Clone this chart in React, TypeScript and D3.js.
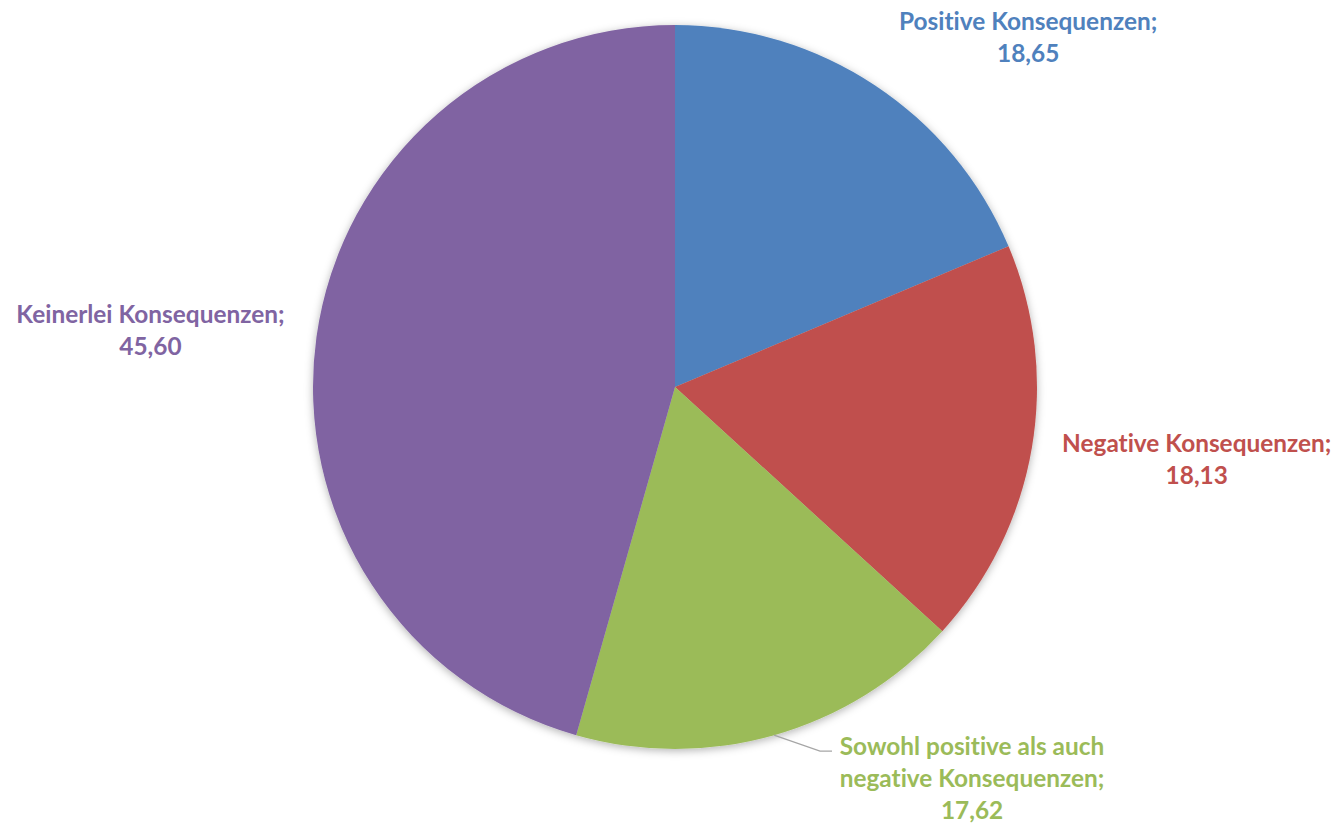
import React, { useEffect, useRef } from "react";
import * as d3 from "d3";

// categories and values (percent)
const categories = [
  "Positive Konsequenzen;",
  "Negative Konsequenzen;",
  "Sowohl positive als auch negative Konsequenzen;",
  "Keinerlei Konsequenzen;",
];
const values = [18.65, 18.13, 17.62, 45.6];
const valueLabels = ["18,65", "18,13", "17,62", "45,60"];
const labelLines = [
  ["Positive Konsequenzen;"],
  ["Negative Konsequenzen;"],
  ["Sowohl positive als auch", "negative Konsequenzen;"],
  ["Keinerlei Konsequenzen;"],
];
const colors = ["#4F81BD", "#C0504D", "#9BBB59", "#8064A2"];

// label placement relative to the slice's outer edge point at mid angle
const labelOffsets = [
  [153, -55],
  [165, 4],
  [198, 20],
  [-166, -14],
];

const App = () => {
  const ref: any = useRef();
  const width = 1339;
  const height = 828;
  const cx = 675;
  const cy = 387;
  const radius = 362;

  useEffect(() => {
    const svg = d3
      .select(ref.current)
      .attr("width", width)
      .attr("height", height);
    svg.selectAll("*").remove();

    const defs = svg.append("defs");
    const filter = defs
      .append("filter")
      .attr("id", "shadow")
      .attr("x", "-10%")
      .attr("y", "-10%")
      .attr("width", "120%")
      .attr("height", "120%");
    filter
      .append("feDropShadow")
      .attr("dx", 0)
      .attr("dy", 2)
      .attr("stdDeviation", 4)
      .attr("flood-color", "#000")
      .attr("flood-opacity", 0.3);

    const data = categories.map((c, i) => ({ name: c, value: values[i], i }));

    const pie = d3
      .pie<any>()
      .sort(null)
      .value((d: any) => d.value);
    const arcs = pie(data);

    const arc = d3.arc<any>().innerRadius(0).outerRadius(radius);

    const ctr = svg.append("g").attr("transform", `translate(${cx},${cy})`);

    ctr
      .append("g")
      .attr("filter", "url(#shadow)")
      .selectAll("path")
      .data(arcs)
      .join("path")
      .attr("d", arc as any)
      .attr("fill", (d: any) => colors[d.data.i]);

    const edge = (d: any) => {
      const a = (d.startAngle + d.endAngle) / 2;
      return [Math.sin(a) * radius, -Math.cos(a) * radius];
    };

    const lineH = 32;
    const labels = ctr.append("g");
    arcs.forEach((d: any) => {
      const i = d.data.i;
      const [ex, ey] = edge(d);
      const [ox, oy] = labelOffsets[i];
      const lx = ex + ox;
      const ly = ey + oy;
      const lines = [...labelLines[i], valueLabels[i]];
      const t = labels
        .append("text")
        .attr("text-anchor", "middle")
        .attr("fill", colors[i])
        .style("font-family", "Lato, 'Open Sans', sans-serif")
        .style("font-weight", 700)
        .style("font-size", "24.4px")
        .style("font-variant-ligatures", "none");
      lines.forEach((l, k) => {
        t.append("tspan")
          .attr("x", lx)
          .attr("y", ly + k * lineH)
          .text(l);
      });

      // leader line for the label that sits away from the slice
      if (i === 2) {
        const x0 = ex;
        const y0 = ey;
        const x1 = ex + ox - 152;
        const y1 = ey + oy - 4;
        labels
          .append("polyline")
          .attr("points", `${x0},${y0} ${x1},${y1} ${x1 + 12},${y1}`)
          .attr("fill", "none")
          .attr("stroke", "#A6A6A6")
          .attr("stroke-width", 1.3);
      }
    });
  }, []);

  return (
    <div className="chart" style={{ margin: -8 }}>
      <svg ref={ref}></svg>
    </div>
  );
};

export default App;
